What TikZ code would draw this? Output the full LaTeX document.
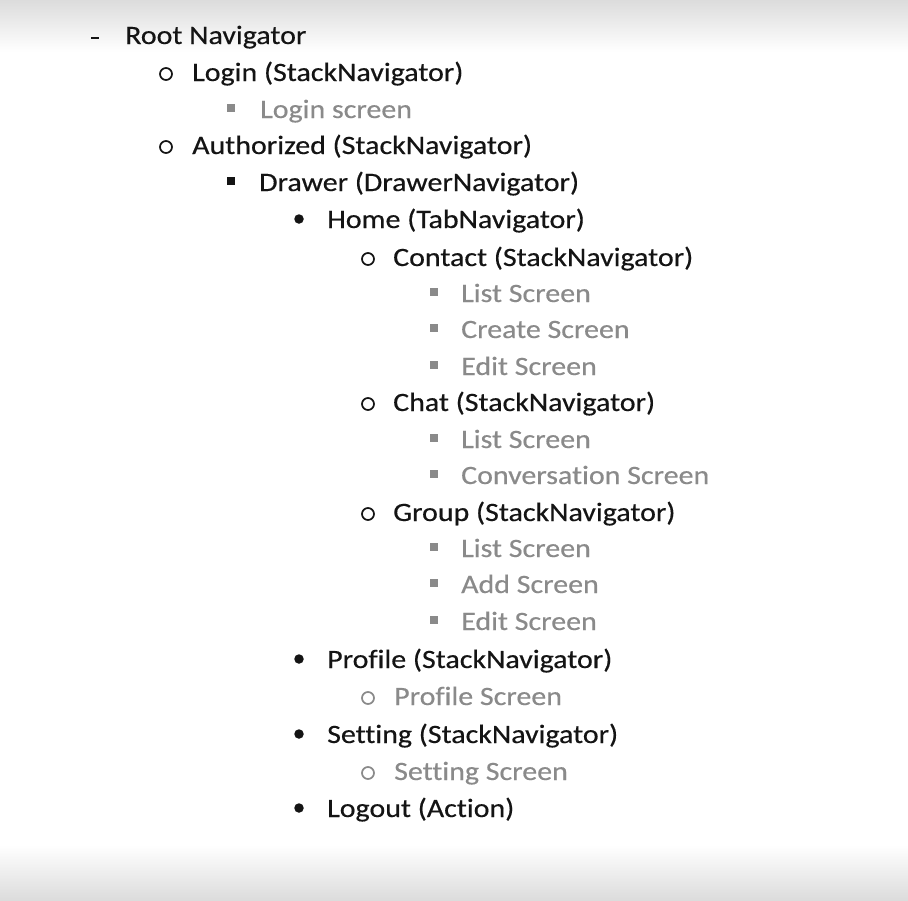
\documentclass[tikz,border=0pt]{standalone}
\usepackage{fontspec}
\setmainfont{Carlito}[RawFeature=-liga,FakeBold=0.4]
\usetikzlibrary{shadings}
\definecolor{txtblack}{HTML}{141414}
\definecolor{txtgrey}{HTML}{8A8A8A}
\definecolor{bgtop}{HTML}{DCDCDC}
\newcommand{\wtxt}[1]{\scalebox{1.13}[1]{#1}}
\begin{document}
\begin{tikzpicture}[x=1pt,y=-1pt,
  itm/.style={anchor=base west,inner sep=0pt,font=\fontsize{26.5}{30}\selectfont,text=txtblack},
  gitm/.style={itm,text=txtgrey},
  ring/.style={circle,draw=txtblack,line width=1.7pt,minimum size=12pt,inner sep=0pt},
  gring/.style={ring,draw=txtgrey},
  sq/.style={rectangle,fill=txtblack,minimum size=7.5pt,inner sep=0pt},
  gsq/.style={sq,fill=txtgrey},
  dotb/.style={circle,fill=txtblack,minimum size=9.5pt,inner sep=0pt},
  dashb/.style={rectangle,fill=txtblack,minimum width=8pt,minimum height=2pt,inner sep=0pt}]
\useasboundingbox (0,0) rectangle (908,900);
\fill[white] (0,0) rectangle (908,900);
\shade[top color=bgtop,bottom color=white] (0,0) rectangle (908,52);
\shade[top color=white,bottom color=bgtop] (0,845) rectangle (908,900);
% level 0
\node[dashb] (b0) at (95,38) {};
\node[itm] (t0) at (125,44) {\wtxt{Root Navigator}};
% level 1
\node[ring] (b1) at (166,74) {};
\node[itm] (t1) at (192,81) {\wtxt{Login (StackNavigator)}};
\node[gsq] (b2) at (231,108) {};
\node[gitm] (t2) at (260,118) {\wtxt{Login screen}};
\node[ring] (b3) at (166,147) {};
\node[itm] (t3) at (192,154) {\wtxt{Authorized (StackNavigator)}};
\node[sq] (b4) at (231,181) {};
\node[itm] (t4) at (259,191) {\wtxt{Drawer (DrawerNavigator)}};
\node[dotb] (b5) at (299,219) {};
\node[itm] (t5) at (327,228) {\wtxt{Home (TabNavigator)}};
% Contact
\node[ring] (b6) at (368,259) {};
\node[itm] (t6) at (393,266) {\wtxt{Contact (StackNavigator)}};
\node[gsq] (b7) at (434,292) {};
\node[gitm] (t7) at (461,302) {\wtxt{List Screen}};
\node[gsq] (b8) at (434,328) {};
\node[gitm] (t8) at (461,338) {\wtxt{Create Screen}};
\node[gsq] (b9) at (434,365) {};
\node[gitm] (t9) at (461,375) {\wtxt{Edit Screen}};
% Chat
\node[ring] (b10) at (368,404) {};
\node[itm] (t10) at (393,411) {\wtxt{Chat (StackNavigator)}};
\node[gsq] (b11) at (434,438) {};
\node[gitm] (t11) at (461,448) {\wtxt{List Screen}};
\node[gsq] (b12) at (434,474) {};
\node[gitm] (t12) at (461,484) {\wtxt{Conversation Screen}};
% Group
\node[ring] (b13) at (368,514) {};
\node[itm] (t13) at (393,521) {\wtxt{Group (StackNavigator)}};
\node[gsq] (b14) at (434,547) {};
\node[gitm] (t14) at (461,557) {\wtxt{List Screen}};
\node[gsq] (b15) at (434,583) {};
\node[gitm] (t15) at (461,593) {\wtxt{Add Screen}};
\node[gsq] (b16) at (434,620) {};
\node[gitm] (t16) at (461,630) {\wtxt{Edit Screen}};
% Profile
\node[dotb] (b17) at (299,659) {};
\node[itm] (t17) at (327,668) {\wtxt{Profile (StackNavigator)}};
\node[gring] (b18) at (368,698) {};
\node[gitm] (t18) at (394,705) {\wtxt{Profile Screen}};
% Setting
\node[dotb] (b19) at (299,734) {};
\node[itm] (t19) at (327,743) {\wtxt{Setting (StackNavigator)}};
\node[gring] (b20) at (368,773) {};
\node[gitm] (t20) at (394,780) {\wtxt{Setting Screen}};
% Logout
\node[dotb] (b21) at (299,808) {};
\node[itm] (t21) at (327,817) {\wtxt{Logout (Action)}};
\end{tikzpicture}
\end{document}
